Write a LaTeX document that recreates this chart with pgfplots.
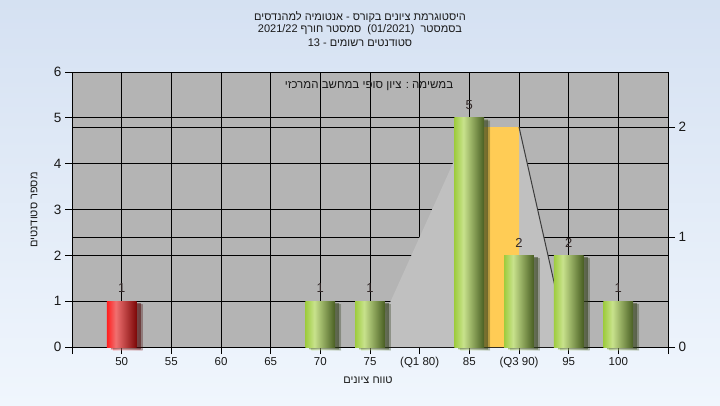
\documentclass[border=0pt]{standalone}
\usepackage{pgfplots}
\pgfplotsset{compat=1.18}
\usepackage{fontspec}
\setmainfont{Liberation Sans}
\newfontfamily\hebfont[Script=Hebrew]{Liberation Sans}
\usetikzlibrary{shadows}
\TeXXeTstate=1
\newcommand\heb[1]{{\hebfont\beginR #1\endR}}
\definecolor{bgtop}{RGB}{213,225,242}
\definecolor{bgbot}{RGB}{240,246,253}
\definecolor{plotbg}{RGB}{180,180,180}
\definecolor{areagrey}{RGB}{192,192,192}
\definecolor{qorange}{RGB}{255,204,85}
\definecolor{linegrey}{RGB}{60,60,60}
\definecolor{gL}{RGB}{158,204,62}
\definecolor{gM}{RGB}{200,226,140}
\definecolor{gD}{RGB}{72,94,34}
\definecolor{rL}{RGB}{255,30,30}
\definecolor{rM}{RGB}{240,112,112}
\definecolor{rD}{RGB}{125,8,8}
\definecolor{txt}{RGB}{25,25,25}
\definecolor{labelcol}{RGB}{50,40,40}
\pgfdeclarehorizontalshading{greenbar}{100bp}{color(0bp)=(gL); color(25bp)=(gL); color(40bp)=(gM); color(75bp)=(gD); color(100bp)=(gD)}
\pgfdeclarehorizontalshading{redbar}{100bp}{color(0bp)=(rL); color(25bp)=(rL); color(40bp)=(rM); color(75bp)=(rD); color(100bp)=(rD)}
\pgfplotsset{
  shbar/.style={ybar, bar width=3, bar shift=0pt, draw=none, shade, shading=#1,
    drop shadow={shadow xshift=6pt, shadow yshift=-3pt, opacity=0.18, fill=black},
    drop shadow={shadow xshift=4pt, shadow yshift=-2pt, opacity=0.3, fill=black}},
}
\begin{document}
\begin{tikzpicture}
\shade[top color=bgtop, bottom color=bgbot] (0pt,0pt) rectangle (720pt,405pt);
\begin{axis}[
  at={(72pt,58pt)}, anchor=south west,
  scale only axis, width=596pt, height=275pt,
  xmin=45, xmax=105, ymin=0, ymax=6,
  xtick={45,50,...,105},
  xticklabels={,50,55,60,65,70,75,(Q1 80),85,(Q3 90),95,100,},
  ytick={0,1,2,3,4,5,6},
  extra y ticks={2.4,4.8}, extra y tick labels={},
  extra y tick style={major tick length=0pt, grid=major},
  xmajorgrids, ymajorgrids,
  grid style={black, line width=0.9pt},
  axis line style={black, line width=0.9pt},
  tick style={black, line width=0.9pt},
  major tick length=7pt,
  tick align=outside,
  tick pos=left,
  axis background/.style={fill=plotbg},
  xticklabel style={font=\fontsize{11.5}{12}\selectfont, text=txt},
  yticklabel style={font=\fontsize{13.5}{14}\selectfont, text=txt},
  /pgf/number format/assume math mode=true,
  clip=false,
]
\addplot[fill=areagrey, draw=none] coordinates {(75,0) (85,4.8) (90,4.8) (95,0)} \closedcycle;
\addplot[fill=qorange, draw=none] coordinates {(85,0) (85,4.8) (90,4.8) (90,0)} \closedcycle;
\addplot[draw=linegrey, line width=1pt, mark=none] coordinates {(90,4.8) (95,0)};
\addplot[shbar=redbar] coordinates {(50,1)};
\addplot[shbar=greenbar] coordinates {(70,1)};
\addplot[shbar=greenbar] coordinates {(75,1)};
\addplot[shbar=greenbar] coordinates {(85,5)};
\addplot[shbar=greenbar] coordinates {(90,2)};
\addplot[shbar=greenbar] coordinates {(95,2)};
\addplot[shbar=greenbar] coordinates {(100,1)};
\addplot[draw=none, mark=none, nodes near coords, point meta=y,
  every node near coord/.style={anchor=south, inner sep=0pt, yshift=8pt, text=labelcol, font=\fontsize{13}{13}\selectfont}]
  coordinates {(50,1) (70,1) (75,1) (85,5) (90,2) (95,2) (100,1)};
\end{axis}
\begin{axis}[
  at={(72pt,58pt)}, anchor=south west,
  scale only axis, width=596pt, height=275pt,
  xmin=45, xmax=105, ymin=0, ymax=2.5,
  hide x axis, axis y line*=right,
  ytick={0,1,2},
  axis line style={-, black, line width=0.9pt},
  tick style={black, line width=0.9pt},
  major tick length=7pt, tick align=outside,
  yticklabel style={font=\fontsize{13.5}{14}\selectfont, text=txt},
  /pgf/number format/assume math mode=true,
]
\addplot[draw=none, mark=none] coordinates {(45,0) (105,2.5)};
\end{axis}
\node[font=\fontsize{11}{12}\selectfont, text=txt] at (360pt,388pt) {\heb{היסטוגרמת ציונים בקורס - אנטומיה למהנדסים}};
\node[font=\fontsize{11}{12}\selectfont, text=txt] at (360pt,375pt) {\heb{בסמסטר~~\beginL(01/2021)\endL{}~~סמסטר חורף \beginL2021/22\endL}};
\node[font=\fontsize{11}{12}\selectfont, text=txt] at (360pt,362pt) {\heb{סטודנטים רשומים - \beginL13\endL}};
\node[font=\fontsize{11.5}{12}\selectfont, text=txt] at (369pt,319pt) {\heb{במשימה : ציון סופי במחשב המרכזי}};
\node[font=\fontsize{11}{12}\selectfont, text=txt, rotate=90] at (34pt,195pt) {\heb{מספר סטודנטים}};
\node[font=\fontsize{11}{12}\selectfont, text=txt] at (368pt,25pt) {\heb{טווח ציונים}};
\end{tikzpicture}
\end{document}
